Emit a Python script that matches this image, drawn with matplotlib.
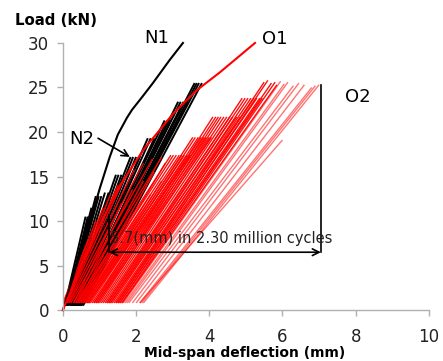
import matplotlib
matplotlib.use("Agg")
import matplotlib.pyplot as plt

# ---- data ----
# N1 monotonic curve
n1_x = [0.0, 0.15, 0.45, 0.75, 1.01, 1.28, 1.50, 1.75, 1.89, 2.16, 2.46, 2.92, 3.28]
n1_y = [0.0, 2.0, 6.0, 10.0, 13.7, 17.2, 19.7, 21.6, 22.5, 23.9, 25.5, 28.1, 30.0]

# O1 monotonic curve
o1_x = [0.0, 0.5, 1.0, 1.56, 2.2, 3.0, 3.66, 4.29, 5.25]
o1_y = [0.0, 5.0, 9.5, 14.0, 18.0, 22.0, 24.7, 26.7, 30.0]

# N2 cyclic loading lines: start deflection, peak deflection, peak load
n2_x0 = [0.05, 0.08, 0.10, 0.10, 0.12, 0.12, 0.15, 0.18, 0.20, 0.22,
         0.22, 0.25, 0.28, 0.25, 0.28, 0.30, 0.35, 0.30, 0.33, 0.38,
         0.35, 0.38, 0.42, 0.40, 0.42, 0.45, 0.50, 0.45, 0.48, 0.50, 0.55]
n2_xp = [0.62, 0.68, 0.72, 0.78, 0.85, 0.90, 0.98, 1.05, 1.15, 1.25,
         1.45, 1.52, 1.60, 1.85, 1.92, 2.00, 2.10, 2.32, 2.40, 2.50,
         2.78, 2.85, 2.95, 3.15, 3.22, 3.30, 3.40, 3.60, 3.66, 3.72, 3.80]
n2_pp = [10.5, 10.5, 10.5, 11.5, 11.5, 12.8, 12.8, 12.8, 13.2, 13.2,
         15.2, 15.2, 15.2, 17.2, 17.2, 17.2, 17.2, 19.3, 19.3, 19.3,
         21.3, 21.3, 21.3, 23.4, 23.4, 23.4, 23.4, 25.5, 25.5, 25.5, 25.5]

# O2 cyclic loading lines: start deflection, peak deflection, peak load
o2_x0 = [0.00, 0.02, 0.05, 0.08, 0.10, 0.12, 0.15, 0.18, 0.22, 0.28,
         0.30, 0.35, 0.40, 0.45, 0.50, 0.55, 0.60, 0.65, 0.70,
         0.35, 0.40, 0.45, 0.50, 0.55, 0.60, 0.65, 0.70,
         0.60, 0.65, 0.70, 0.75, 0.80, 0.85, 0.90, 0.95,
         0.85, 0.90, 0.95, 1.00, 1.05, 1.10, 1.15, 1.20, 1.25, 1.30,
         1.20, 1.25, 1.30, 1.35, 1.40, 1.45, 1.50, 1.55,
         1.45, 1.50, 1.55, 1.60, 1.62, 1.65, 1.70, 1.75, 1.80, 1.90,
         2.00, 2.10, 2.15, 2.20, 2.10]
o2_xp = [0.70, 0.90, 1.10, 1.30, 1.50, 1.70, 1.95, 2.20, 2.45, 2.70,
         1.60, 1.90, 2.20, 2.50, 2.80, 2.40, 2.70, 3.00, 3.30,
         2.95, 3.02, 3.10, 3.18, 3.25, 3.32, 3.40, 3.48,
         3.55, 3.62, 3.70, 3.78, 3.85, 3.92, 4.00, 4.06,
         4.10, 4.18, 4.25, 4.32, 4.40, 4.48, 4.56, 4.64, 4.75, 4.85,
         4.90, 4.98, 5.06, 5.14, 5.22, 5.30, 5.38, 5.45,
         5.50, 5.60, 5.70, 5.80, 5.85, 5.95, 6.05, 6.15, 6.30, 6.45,
         6.60, 6.80, 6.90, 7.00, 6.00]
o2_pp = [8.0, 10.0, 11.5, 13.0, 14.0, 15.0, 15.8, 16.5, 17.0, 17.2,
         12.0, 13.5, 14.5, 15.5, 16.5, 13.0, 14.5, 15.5, 16.5,
         17.4, 17.4, 17.4, 17.4, 17.4, 17.4, 17.4, 17.4,
         19.4, 19.4, 19.4, 19.4, 19.4, 19.4, 19.4, 19.4,
         21.7, 21.7, 21.7, 21.7, 21.7, 21.7, 21.7, 21.7, 21.7, 21.7,
         23.8, 23.8, 23.8, 23.8, 23.8, 23.8, 23.8, 23.8,
         25.6, 25.8, 25.5, 25.6, 25.3, 25.7, 25.4, 25.6, 25.2, 25.5,
         25.3, 25.0, 25.2, 25.3, 19.1]

x_ticks = [0, 2, 4, 6, 8, 10]
y_ticks = [0, 5, 10, 15, 20, 25, 30]

# ---- figure ----
fig = plt.figure(figsize=(4.43, 3.61), dpi=100)
ax = fig.add_axes([0.142, 0.141, 0.826, 0.740])

for x0, xp, pp in zip(n2_x0, n2_xp, n2_pp):
    ax.plot([x0, xp], [0.5, pp], color="black", lw=1.4, solid_capstyle="butt")

for x0, xp, pp in zip(o2_x0, o2_xp, o2_pp):
    a = 0.95 if xp < 5.9 else 0.55
    ax.plot([x0, xp], [0.8, pp], color="#ff0000", lw=1.0, alpha=a,
            solid_capstyle="butt")

ax.plot(n1_x, n1_y, color="black", lw=1.5, clip_on=False)
ax.plot(o1_x, o1_y, color="#ff0000", lw=1.5, clip_on=False)

# annotations
ax.plot([7.05, 7.05], [6.5, 25.3], color="black", lw=1.2)
ax.plot([1.26, 1.26], [6.5, 10.7], color="black", lw=1.2)
ax.annotate("", xy=(7.05, 6.5), xytext=(1.26, 6.5),
            arrowprops=dict(arrowstyle="<->", color="black", lw=1.2,
                            shrinkA=0, shrinkB=0, mutation_scale=12))
ax.text(1.28, 8.0, "5.7(mm) in 2.30 million cycles", fontsize=10.5,
        ha="left", va="center", color="#222222")

ax.text(2.57, 30.6, "N1", fontsize=13, ha="center", va="center")
ax.text(5.8, 30.5, "O1", fontsize=13, ha="center", va="center")
ax.text(8.07, 23.9, "O2", fontsize=13, ha="center", va="center")
ax.text(0.52, 19.2, "N2", fontsize=13, ha="center", va="center")
ax.annotate("", xy=(1.83, 17.2), xytext=(0.96, 19.3),
            arrowprops=dict(arrowstyle="->", color="black", lw=1.2,
                            shrinkA=0, shrinkB=0, mutation_scale=12))

ax.set_xlim(0, 10)
ax.set_ylim(0, 30)
ax.set_xticks(x_ticks)
ax.set_yticks(y_ticks)
ax.set_xticklabels([str(v) for v in x_ticks])
ax.set_yticklabels([str(v) for v in y_ticks])

for s in ["top", "right"]:
    ax.spines[s].set_visible(False)
for s in ["left", "bottom"]:
    ax.spines[s].set_color("#b0b0b0")
    ax.spines[s].set_linewidth(1.0)
ax.tick_params(axis="both", direction="out", color="#b0b0b0", length=4,
               width=1.0, labelsize=12, labelcolor="#222222")
ax.tick_params(axis="x", pad=9)
ax.tick_params(axis="y", pad=6)

fig.text(0.126, 0.942, "Load (kN)", fontsize=10.8, fontweight="bold",
         ha="center", va="center")
fig.text(0.553, 0.022, "Mid-span deflection (mm)", fontsize=10,
         fontweight="bold", ha="center", va="center")

fig.savefig("out.png", dpi=100)
